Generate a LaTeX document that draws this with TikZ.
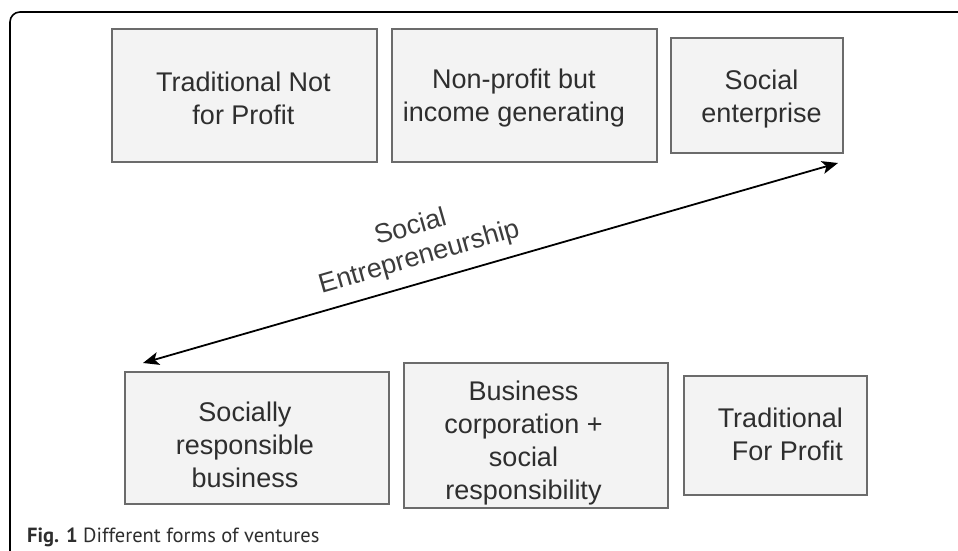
\documentclass[tikz,border=0pt]{standalone}
\usepackage{fontspec}
\setmainfont{Liberation Sans}
\newfontfamily\capfont{PT Sans}
\usetikzlibrary{arrows.meta}
\definecolor{boxline}{HTML}{6B6B6B}
\definecolor{boxfill}{HTML}{F3F3F3}
\definecolor{txt}{HTML}{2E2E2E}
\definecolor{lbl}{HTML}{3C3C3C}
\tikzset{
  box/.style={draw=boxline, fill=boxfill, line width=1.5pt, inner sep=0pt},
  boxtext/.style={align=center, text=txt, inner sep=0pt, font=\fontsize{27}{33}\selectfont},
  conn/.style={line width=1.8pt, {Stealth[length=16pt,width=13pt,inset=4pt]}-{Stealth[length=16pt,width=13pt,inset=4pt]}},
}
\begin{document}
\begin{tikzpicture}[x=1pt,y=-1pt]
\useasboundingbox (0,0) rectangle (958,551);
% frame
\draw[line width=1.6pt, rounded corners=10pt] (10,551) -- (10,12) -- (958,12);
% boxes
\node[box, minimum width=265pt, minimum height=133pt] (b1) at (244.5,95.5) {};
\node[box, minimum width=265pt, minimum height=133pt] (b2) at (524.5,95.5) {};
\node[box, minimum width=172pt, minimum height=115pt] (b3) at (757,95.5) {};
\node[box, minimum width=264pt, minimum height=132pt] (b4) at (257,438) {};
\node[box, minimum width=264pt, minimum height=145pt] (b5) at (536,435.5) {};
\node[box, minimum width=183pt, minimum height=119pt] (b6) at (775.5,435.5) {};
% texts
\node[boxtext] (t1) at (243.5,98.5) {Traditional Not\\for Profit};
\node[boxtext] (t2) at (514,98.4) {Non-profit but\\income generating};
\node[boxtext] (t3) at (761.5,99.4) {Social\\enterprise};
\node[boxtext] (t4) at (245,445) {Socially\\responsible\\business};
\node[boxtext] (t5) at (523.5,443.4) {Business\\corporation +\\social\\responsibility};
\node[boxtext, align=right, anchor=east] (t6) at (843,434) {Traditional\\For Profit};
% arrow
\coordinate (pa) at (143,363);
\coordinate (pb) at (838,163);
\draw[conn] (pa) -- (pb);
\node[align=center, text=lbl, inner sep=0pt, rotate=16.05, font=\fontsize{27}{31}\selectfont] (lab) at (415,243) {Social\\Entrepreneurship};
% caption
\node[anchor=base west, inner sep=0pt, text=txt, font=\capfont\fontsize{20.5}{24}\selectfont] (cap) at (27,542) {\textbf{Fig. 1} Different forms of ventures};
\end{tikzpicture}
\end{document}
